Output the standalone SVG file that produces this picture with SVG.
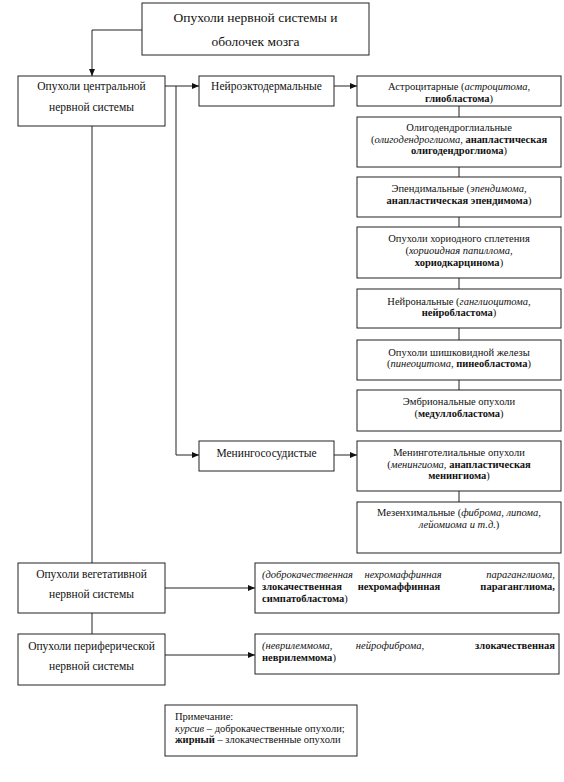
<svg xmlns="http://www.w3.org/2000/svg" width="564" height="782" viewBox="0 0 564 782">
<defs>
<marker id="ah" markerUnits="userSpaceOnUse" markerWidth="8" markerHeight="7" refX="7" refY="3" orient="auto">
<path d="M0,0 L7,3 L0,6 z" fill="#111"/>
</marker>
<style>
rect{fill:#fff;stroke:#222;stroke-width:1}
text{font-family:"Liberation Serif","Times New Roman",serif;fill:#111}
.t{font-size:13.5px;text-anchor:middle}
.m{font-size:11.5px;text-anchor:middle}
.s{font-size:10.5px;text-anchor:middle}
.l{font-size:10.5px}
.i{font-style:italic}
.b{font-weight:bold}
#connectors path,#connectors line{fill:none;stroke:#222;stroke-width:1}
</style>
</defs>
<rect x="0" y="0" width="564" height="782" style="fill:#fff;stroke:none"/>
<g id="connectors">
<path d="M142,30 H92 V76" marker-end="url(#ah)"/>
<line x1="165" y1="86" x2="199" y2="86" marker-end="url(#ah)"/>
<path d="M176,86 V455 H199" marker-end="url(#ah)"/>
<line x1="334" y1="86" x2="357" y2="86" marker-end="url(#ah)"/>
<line x1="334" y1="455" x2="357" y2="455" marker-end="url(#ah)"/>
<path d="M459,106 V117 M459,167 V177 M459,217 V227 M459,278 V289 M459,328 V340 M459,380 V390 M459,491 V502"/>
<path d="M92,126 V563 M92,613 V634"/>
<line x1="165" y1="588" x2="255" y2="588" marker-end="url(#ah)"/>
<line x1="165" y1="655" x2="255" y2="655" marker-end="url(#ah)"/>
</g>
<g id="n-top"><rect x="142" y="3" width="227" height="52"/>
<text class="t" x="255.5" y="22">Опухоли нервной системы и</text>
<text class="t" x="255.5" y="46">оболочек мозга</text></g>
<g id="n-cns"><rect x="18" y="76" width="147" height="50"/>
<text class="m" x="91.5" y="90">Опухоли центральной</text>
<text class="m" x="91.5" y="111">нервной системы</text></g>
<g id="n-neuro"><rect x="199" y="76" width="135" height="30"/>
<text class="m" x="266.5" y="90">Нейроэктодермальные</text></g>
<g id="n-meningovasc"><rect x="199" y="441" width="135" height="30"/>
<text class="m" x="266.5" y="457">Менингососудистые</text></g>
<g id="n-astro"><rect x="357" y="76" width="204" height="30"/>
<text class="s" x="459" y="90">Астроцитарные (<tspan class="i">астроцитома,</tspan></text>
<text class="s" x="459" y="102"><tspan class="b">глиобластома</tspan>)</text></g>
<g id="n-olig"><rect x="357" y="117" width="204" height="50"/>
<text class="s" x="459" y="131">Олигодендроглиальные</text>
<text class="s" x="459" y="143">(<tspan class="i">олигодендроглиома,</tspan> <tspan class="b">анапластическая</tspan></text>
<text class="s" x="459" y="154"><tspan class="b">олигодендроглиома</tspan>)</text></g>
<g id="n-epend"><rect x="357" y="177" width="204" height="40"/>
<text class="s" x="459" y="192">Эпендимальные (<tspan class="i">эпендимома,</tspan></text>
<text class="s" x="459" y="204"><tspan class="b">анапластическая эпендимома</tspan>)</text></g>
<g id="n-chorio"><rect x="357" y="227" width="204" height="51"/>
<text class="s" x="459" y="242">Опухоли хориодного сплетения</text>
<text class="s" x="459" y="254">(<tspan class="i">хориоидная папиллома,</tspan></text>
<text class="s" x="459" y="266"><tspan class="b">хориодкарцинома</tspan>)</text></g>
<g id="n-neuronal"><rect x="357" y="289" width="204" height="39"/>
<text class="s" x="459" y="305">Нейрональные (<tspan class="i">ганглиоцитома,</tspan></text>
<text class="s" x="459" y="316"><tspan class="b">нейробластома</tspan>)</text></g>
<g id="n-pineal"><rect x="357" y="340" width="204" height="40"/>
<text class="s" x="459" y="356">Опухоли шишковидной железы</text>
<text class="s" x="459" y="367">(<tspan class="i">пинеоцитома,</tspan> <tspan class="b">пинеобластома</tspan>)</text></g>
<g id="n-embryo"><rect x="357" y="390" width="204" height="41"/>
<text class="s" x="459" y="405">Эмбриональные опухоли</text>
<text class="s" x="459" y="417">(<tspan class="b">медуллобластома</tspan>)</text></g>
<g id="n-meningothel"><rect x="357" y="441" width="204" height="50"/>
<text class="s" x="459" y="456">Менинготелиальные опухоли</text>
<text class="s" x="459" y="468">(<tspan class="i">менингиома,</tspan> <tspan class="b">анапластическая</tspan></text>
<text class="s" x="459" y="479"><tspan class="b">менингиома</tspan>)</text></g>
<g id="n-mesench"><rect x="357" y="502" width="204" height="51"/>
<text class="s" x="459" y="516">Мезенхимальные (<tspan class="i">фиброма, липома,</tspan></text>
<text class="s" x="459" y="528"><tspan class="i">лейомиома и т.д.</tspan>)</text></g>
<g id="n-veg"><rect x="18" y="563" width="147" height="50"/>
<text class="m" x="91.5" y="578">Опухоли вегетативной</text>
<text class="m" x="91.5" y="598">нервной системы</text></g>
<g id="n-veg-list"><rect x="255" y="563" width="304" height="50"/>
<text class="l i" x="262" y="578">(доброкачественная</text>
<text class="l i" x="403" y="578" text-anchor="middle">нехромаффинная</text>
<text class="l i" x="555" y="578" text-anchor="end">параганглиома,</text>
<text class="l b" x="262" y="590">злокачественная</text>
<text class="l b" x="399" y="590" text-anchor="middle">нехромаффинная</text>
<text class="l b" x="555" y="590" text-anchor="end">параганглиома,</text>
<text class="l" x="262" y="602"><tspan class="b">симпатобластома</tspan>)</text></g>
<g id="n-periph"><rect x="18" y="634" width="147" height="51"/>
<text class="m" x="91.5" y="650">Опухоли периферической</text>
<text class="m" x="91.5" y="670">нервной системы</text></g>
<g id="n-periph-list"><rect x="255" y="634" width="304" height="40"/>
<text class="l i" x="262" y="649">(неврилеммома,</text>
<text class="l i" x="390" y="649" text-anchor="middle">нейрофиброма,</text>
<text class="l b" x="555" y="649" text-anchor="end">злокачественная</text>
<text class="l" x="262" y="661"><tspan class="b">неврилеммома</tspan>)</text></g>
<g id="n-legend"><rect x="165" y="705" width="192" height="51"/>
<text class="l" x="175" y="720">Примечание:</text>
<text class="l" x="175" y="732"><tspan class="i">курсив</tspan> – доброкачественные опухоли;</text>
<text class="l" x="175" y="743"><tspan class="b">жирный</tspan> – злокачественные опухоли</text></g>
</svg>
